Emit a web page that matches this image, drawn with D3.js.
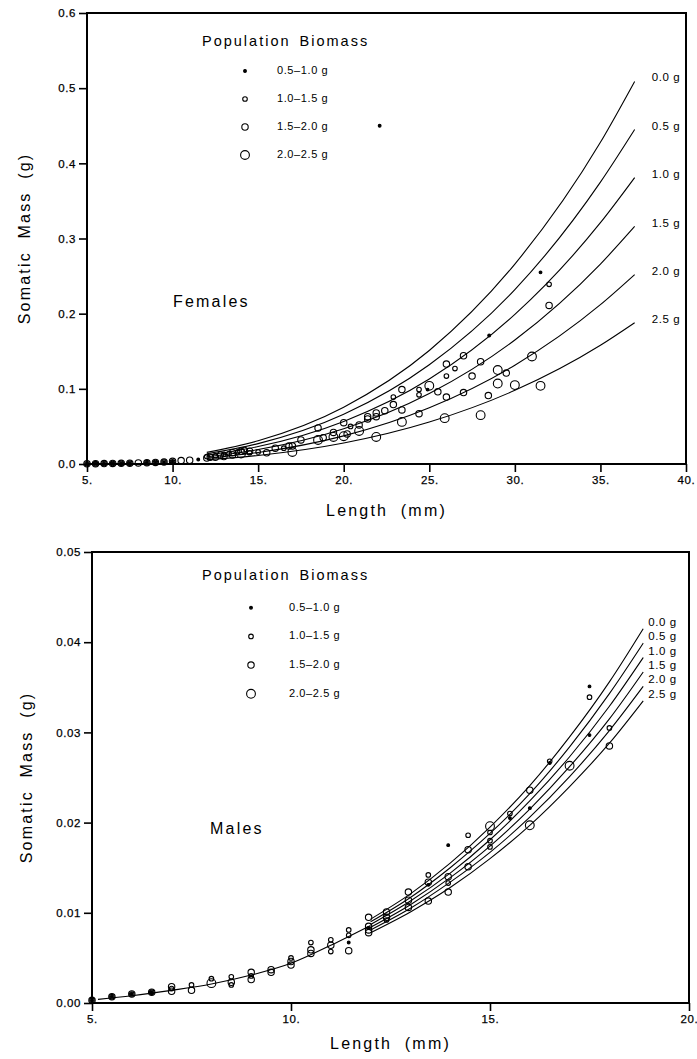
<!DOCTYPE html>
<html lang="en">
<head>
<meta charset="utf-8">
<title>Somatic mass vs length</title>
<script src="https://cdn.jsdelivr.net/npm/d3@7"></script>
<style>
  body { margin: 0; background: #fff; }
  svg { font-family: "Liberation Sans", Arial, sans-serif; }
  .frame { fill: none; stroke: #000; stroke-width: 2; }
  .axis path { display: none; }
  .axis line { stroke: #000; stroke-width: 1.6; }
  .axis text { font-size: 11.5px; letter-spacing: 0.6px; fill: #000; stroke: #000; stroke-width: 0.25px; }
  .curve { fill: none; stroke: #000; stroke-width: 1.1; }
  .pt { stroke: #000; stroke-width: 1.1; }
  .title { font-size: 16px; letter-spacing: 2.2px; word-spacing: 6px; }
  .leg-title { font-size: 14.5px; letter-spacing: 2px; word-spacing: 3px; }
  .leg-text { font-size: 11px; letter-spacing: 0.6px; }
  .clabel { font-size: 11.5px; letter-spacing: 0.6px; }
</style>
</head>
<body>
<script>
// biomass classes (legend) and curve labels
var classLabels = ["0.5\u20131.0 g", "1.0\u20131.5 g", "1.5\u20132.0 g", "2.0\u20132.5 g"];
var curveLabels = ["0.0 g", "0.5 g", "1.0 g", "1.5 g", "2.0 g", "2.5 g"];

// Females: fitted curves
var femCurveL = [12, 15, 20, 25, 30, 35, 37];
var femCurves = [
  [0.0155, 0.031, 0.0756, 0.151, 0.266, 0.428, 0.509],
  [0.0136, 0.0271, 0.0661, 0.132, 0.232, 0.375, 0.445],
  [0.0116, 0.0232, 0.0566, 0.113, 0.199, 0.321, 0.381],
  [0.0096, 0.0192, 0.0469, 0.0938, 0.165, 0.266, 0.316],
  [0.0077, 0.0153, 0.0374, 0.0748, 0.1315, 0.212, 0.252],
  [0.0057, 0.0114, 0.0279, 0.0558, 0.098, 0.158, 0.188]
];
var femaleTicksX = [5, 10, 15, 20, 25, 30, 35, 40];
var femaleTicksY = [0, 0.1, 0.2, 0.3, 0.4, 0.5, 0.6];

// Females: [length, mass, class]
var femalePts = [
  [5,0.0003,1],[5,0.0003,2],[5,0.0003,3],
  [5.5,0.0004,1],[5.5,0.0004,2],[5.5,0.0004,3],
  [6,0.0005,1],[6,0.0005,2],[6,0.0005,3],
  [6.5,0.0007,1],[6.5,0.0007,2],[6.5,0.0007,3],
  [7,0.0009,1],[7,0.0009,2],[7,0.0009,3],
  [7.5,0.0011,1],[7.5,0.0011,2],[7.5,0.0011,3],
  [8,0.0014,3],
  [8.5,0.0017,1],[8.5,0.0017,2],[8.5,0.0017,3],
  [9,0.0021,1],[9,0.0021,2],[9,0.0021,3],
  [9.5,0.0025,1],[9.5,0.0025,2],[9.5,0.0025,3],
  [10,0.003,1],[10,0.003,2],[10,0.0035,3],
  [10.5,0.0045,3],[11,0.005,3],[11.5,0.006,1],
  [12,0.008,3],[12,0.010,2],[12.2,0.009,3],[12.5,0.011,2],[12.5,0.009,3],
  [12.8,0.012,3],[13,0.013,2],[13,0.010,3],[13.3,0.014,2],[13.5,0.015,3],
  [13.5,0.012,3],[13.8,0.016,2],[14,0.017,3],[14,0.014,4],[14.2,0.018,3],
  [14.5,0.017,3],[14.5,0.015,2],[15,0.016,2],[15.5,0.015,3],[16,0.021,3],
  [16.5,0.021,2],[16.8,0.024,3],[17,0.024,3],[17,0.016,4],[17.5,0.032,3],
  [18.5,0.048,3],[18.5,0.032,4],[18.8,0.035,3],[19.4,0.036,4],[19.4,0.042,3],
  [20,0.055,3],[20,0.037,4],[20.2,0.040,3],[20.4,0.050,2],[20.9,0.052,3],
  [20.9,0.044,4],[21.4,0.060,3],[21.4,0.063,3],[21.9,0.068,3],[21.9,0.063,3],
  [21.9,0.036,4],[22.1,0.45,1],[22.4,0.071,3],[22.9,0.089,2],[22.9,0.079,3],
  [23.4,0.099,3],[23.4,0.072,3],[23.4,0.056,4],[24.4,0.099,2],[24.4,0.092,2],
  [24.4,0.067,3],[24.9,0.099,1],[25,0.104,4],[25.5,0.096,3],[25.9,0.061,4],
  [26,0.133,3],[26,0.117,2],[26,0.089,3],[26.5,0.127,2],[27,0.144,3],
  [27,0.095,3],[27.5,0.117,3],[28,0.136,3],[28,0.065,4],[28.45,0.091,3],
  [28.5,0.171,1],[29,0.125,4],[29,0.107,4],[29.5,0.121,3],[30,0.105,4],
  [31,0.143,4],[31.5,0.255,1],[31.5,0.104,4],[32,0.239,2],[32,0.211,3]
];

// Males
var maleBaseL = [5.15, 6, 7, 8, 9, 10, 11, 12];
var maleBaseVals = [0.0004, 0.0008, 0.0014, 0.0021, 0.0031, 0.0044, 0.0064, 0.0086];
var maleCurveL = [12, 13, 14, 15, 16, 17, 18, 18.85];
var maleCurves = [
  [0.0093, 0.0121, 0.0155, 0.0195, 0.0241, 0.0295, 0.0356, 0.0415],
  [0.0090, 0.0117, 0.0150, 0.0188, 0.0232, 0.0284, 0.0343, 0.0399],
  [0.0087, 0.0113, 0.0144, 0.0181, 0.0224, 0.0273, 0.0329, 0.0383],
  [0.0084, 0.0109, 0.0139, 0.0174, 0.0215, 0.0262, 0.0315, 0.0367],
  [0.0081, 0.0105, 0.0134, 0.0167, 0.0206, 0.0251, 0.0302, 0.0351],
  [0.0078, 0.0101, 0.0128, 0.0160, 0.0197, 0.0240, 0.0288, 0.0335]
];
var maleTicksX = [5, 10, 15, 20];
var maleTicksY = [0, 0.01, 0.02, 0.03, 0.04, 0.05];

var malePts = [
  [5,0.0003,1],[5,0.0003,2],[5,0.0003,3],
  [5.5,0.0007,1],[5.5,0.0007,2],[5.5,0.0007,3],
  [6,0.001,1],[6,0.001,2],[6,0.001,3],
  [6.5,0.0012,1],[6.5,0.0012,2],[6.5,0.0012,3],
  [7,0.0018,3],[7,0.0013,3],[7,0.0016,2],
  [7.5,0.002,2],[7.5,0.0014,3],
  [8,0.0022,4],[8,0.0027,2],
  [8.5,0.0029,2],[8.5,0.0023,3],[8.5,0.002,2],
  [9,0.0034,3],[9,0.003,2],[9,0.0026,3],
  [9.5,0.0037,3],[9.5,0.0034,3],
  [10,0.005,2],[10,0.0046,3],[10,0.0042,3],
  [10.5,0.0067,2],[10.5,0.0059,3],[10.5,0.0055,3],
  [11,0.007,2],[11,0.0064,3],[11,0.0057,2],
  [11.45,0.0081,2],[11.45,0.0075,2],[11.45,0.0067,1],[11.45,0.0058,3],
  [11.95,0.0095,3],[11.95,0.0085,3],[11.95,0.0081,3],[11.95,0.0078,3],[11.95,0.0083,1],
  [12.4,0.0101,3],[12.4,0.0095,3],[12.4,0.0092,2],
  [12.95,0.0123,3],[12.95,0.0114,3],[12.95,0.0106,3],
  [13.45,0.0142,2],[13.45,0.0134,3],[13.45,0.0131,1],[13.45,0.0113,3],
  [13.95,0.0175,1],[13.95,0.014,3],[13.95,0.0133,2],[13.95,0.0123,3],
  [14.45,0.0186,2],[14.45,0.017,3],[14.45,0.0151,3],
  [15,0.0196,4],[15,0.0189,2],[15,0.018,2],[15,0.0173,2],
  [15.5,0.021,2],[15.5,0.0205,1],
  [16,0.0236,3],[16,0.0216,1],[16,0.0197,4],
  [16.5,0.0268,2],[16.5,0.0266,1],
  [17,0.0263,4],
  [17.5,0.0351,1],[17.5,0.0339,2],[17.5,0.0297,1],
  [18,0.0305,2],[18,0.0285,3]
];

var radius = [1.4, 2.3, 3.2, 4.4];

var svg = d3.select("body").append("svg")
  .attr("width", 697)
  .attr("height", 1059);

function panel(opt) {
  var x = d3.scaleLinear().domain(opt.xDomain).range(opt.xRange);
  var y = d3.scaleLinear().domain(opt.yDomain).range(opt.yRange);
  var g = svg.append("g");

  g.append("rect")
    .attr("class", "frame")
    .attr("x", opt.xRange[0])
    .attr("y", opt.yRange[1])
    .attr("width", opt.xRange[1] - opt.xRange[0])
    .attr("height", opt.yRange[0] - opt.yRange[1]);

  g.append("g")
    .attr("class", "axis")
    .attr("transform", "translate(0," + opt.yRange[0] + ")")
    .call(d3.axisBottom(x).tickValues(opt.xTicks).tickSize(8).tickPadding(4)
      .tickFormat(function (d) { return d + "."; }));

  g.append("g")
    .attr("class", "axis")
    .attr("transform", "translate(" + opt.xRange[0] + ",0)")
    .call(d3.axisLeft(y).tickValues(opt.yTicks).tickSize(8).tickPadding(3)
      .tickFormat(d3.format(opt.yFormat)));

  var line = d3.line()
    .x(function (d) { return x(d[0]); })
    .y(function (d) { return y(d[1]); })
    .curve(d3.curveMonotoneX);

  if (opt.baseL) {
    g.append("path")
      .datum(opt.baseL.map(function (l, i) { return [l, opt.baseVals[i]]; }))
      .attr("class", "curve")
      .attr("d", line);
  }

  opt.curves.forEach(function (vals, k) {
    var pts = opt.curveL.map(function (l, i) { return [l, vals[i]]; });
    g.append("path").datum(pts).attr("class", "curve").attr("d", line);
    var last = pts[pts.length - 1];
    g.append("text")
      .attr("class", "clabel")
      .attr("x", x(last[0]) + opt.labelDx)
      .attr("y", y(last[1]) + opt.labelDy)
      .attr("dominant-baseline", "middle")
      .text(curveLabels[k]);
  });

  g.selectAll("circle.pt")
    .data(opt.points)
    .enter().append("circle")
    .attr("class", "pt")
    .attr("cx", function (d) { return x(d[0]); })
    .attr("cy", function (d) { return y(d[1]); })
    .attr("r", function (d) { return radius[d[2] - 1]; })
    .attr("fill", function (d) { return d[2] === 1 ? "#000" : "none"; });

  // legend
  var lg = g.append("g");
  lg.append("text")
    .attr("class", "leg-title")
    .attr("x", opt.legend.x)
    .attr("y", opt.legend.y)
    .attr("dominant-baseline", "middle")
    .text("Population Biomass");
  classLabels.forEach(function (lab, i) {
    var yy = opt.legend.y + opt.legend.step * (i + 1) + opt.legend.gap;
    lg.append("circle")
      .attr("class", "pt")
      .attr("cx", opt.legend.sx)
      .attr("cy", yy)
      .attr("r", radius[i])
      .attr("fill", i === 0 ? "#000" : "none");
    lg.append("text")
      .attr("class", "leg-text")
      .attr("x", opt.legend.tx)
      .attr("y", yy)
      .attr("dominant-baseline", "middle")
      .text(lab);
  });

  g.append("text")
    .attr("class", "title")
    .attr("x", opt.sexPos[0])
    .attr("y", opt.sexPos[1])
    .attr("dominant-baseline", "middle")
    .text(opt.sex);

  g.append("text")
    .attr("class", "title")
    .attr("text-anchor", "middle")
    .attr("x", (opt.xRange[0] + opt.xRange[1]) / 2)
    .attr("y", opt.yRange[0] + opt.xTitleDy)
    .attr("dominant-baseline", "middle")
    .text("Length (mm)");

  g.append("text")
    .attr("class", "title")
    .attr("text-anchor", "middle")
    .attr("dominant-baseline", "middle")
    .attr("transform", "translate(" + opt.yTitleX + "," + ((opt.yRange[0] + opt.yRange[1]) / 2) + ") rotate(-90)")
    .text("Somatic Mass (g)");
}

panel({
  xDomain: [5, 40], xRange: [87, 686],
  yDomain: [0, 0.6], yRange: [464, 13],
  xTicks: femaleTicksX, yTicks: femaleTicksY, yFormat: ".1f",
  curveL: femCurveL, curves: femCurves,
  labelDx: 17, labelDy: -3,
  points: femalePts,
  legend: { x: 202, y: 42, step: 28, gap: 1, sx: 245, tx: 277 },
  sex: "Females", sexPos: [173, 303],
  yTitleX: 26, xTitleDy: 48
});

panel({
  xDomain: [5, 20], xRange: [92, 689],
  yDomain: [0, 0.05], yRange: [1003, 552],
  xTicks: maleTicksX, yTicks: maleTicksY, yFormat: ".2f",
  curveL: maleCurveL, curves: maleCurves,
  baseL: maleBaseL, baseVals: maleBaseVals,
  labelDx: 5, labelDy: -6,
  points: malePts,
  legend: { x: 202, y: 576, step: 28.7, gap: 3, sx: 251, tx: 289 },
  sex: "Males", sexPos: [210, 830],
  yTitleX: 28, xTitleDy: 42
});
</script>
</body>
</html>
